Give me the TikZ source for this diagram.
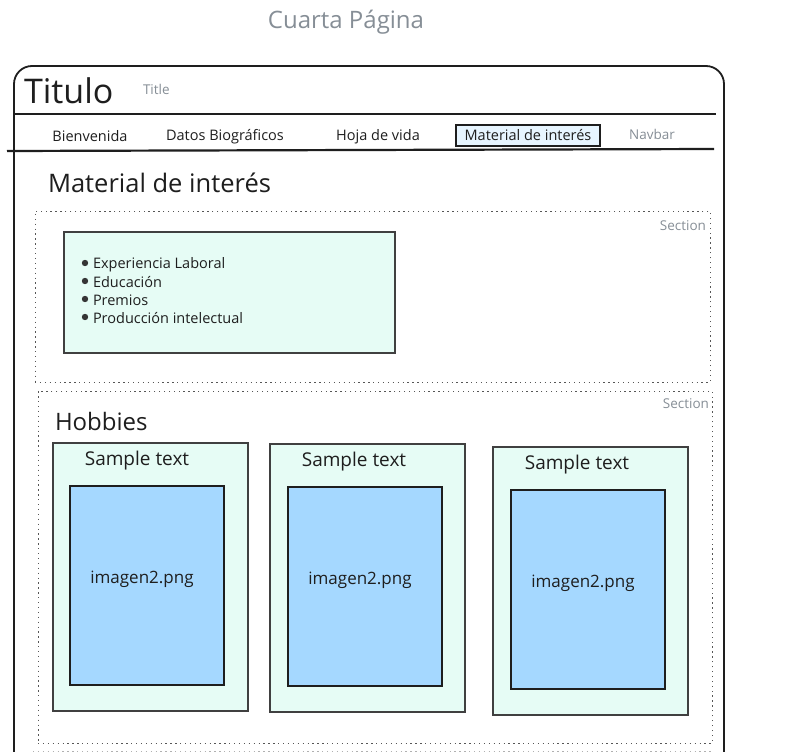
\documentclass[tikz,border=0pt]{standalone}
\usepackage{fontspec}
\setmainfont{Open Sans}
\definecolor{ink}{HTML}{1E1E1E}
\definecolor{muted}{HTML}{868E96}
\definecolor{mint}{HTML}{E6FCF5}
\definecolor{sky}{HTML}{A5D8FF}
\definecolor{navfill}{HTML}{E7F5FF}
\newcommand{\fsz}[1]{\fontsize{#1}{#1}\selectfont}
\tikzset{
  every node/.style={inner sep=0pt, outer sep=0pt, text=ink},
  frameline/.style={draw=ink, line width=1.8pt},
  barline/.style={draw=ink, line width=2.2pt},
  sectionbox/.style={draw=ink!75, line width=1pt, dash pattern=on 1.3pt off 3.6pt},
  panel/.style={draw=ink!85, line width=1.5pt, fill=mint, anchor=north west},
  picbox/.style={draw=ink, line width=1.6pt, fill=sky, anchor=north west},
  navitem/.style={font=\fsz{14.5}},
  tag/.style={font=\fsz{13.5}, text=muted},
  heading/.style={font=\fsz{25.5}, anchor=west},
  itemtext/.style={font=\fsz{14.5}, anchor=west},
  captiontext/.style={font=\fsz{19}},
  pictext/.style={font=\fsz{17}},
}
\begin{document}
\begin{tikzpicture}[x=1pt, y=-1pt]
\useasboundingbox[fill=white] (0,0) rectangle (793,752);

% page caption
\node[font=\fsz{24}, text=muted] (pagecap) at (346,22) {Cuarta Página};

% browser frame, open at the bottom (angles run in the flipped y system)
\draw[frameline] (14,752) -- (14,84) arc[start angle=180, end angle=270, radius=18] -- (706,66)
  arc[start angle=270, end angle=360, radius=18] -- (724,752);

% header
\node[font=\fsz{34}, anchor=west] (titulo) at (24,91) {Titulo};
\node[tag, anchor=west] (titletag) at (143,89) {Title};

% navbar rules
\coordinate (navtopL) at (14,114);
\coordinate (navtopR) at (716,114);
\coordinate (navbotL) at (7,151);
\coordinate (navbotR) at (714,149);
\draw[barline] (navtopL) -- (navtopR);
\draw[barline] (navbotL) -- (navbotR);

% navbar entries
\node[navitem] (nav1) at (90,136.5) {Bienvenida};
\node[navitem] (nav2) at (225,136.5) {Datos Biográficos};
\node[navitem] (nav3) at (378,136.5) {Hoja de vida};
\node[navitem, draw=ink, line width=1.6pt, fill=navfill, minimum width=144, minimum height=21] (nav4) at (528,135.5) {Material de interés};
\node[tag] (navtag) at (652,134) {Navbar};

% first section
\node[heading] (matheading) at (48,183) {Material de interés};
\node[sectionbox, anchor=north west, minimum width=675, minimum height=171] (sec1) at (35,211) {};
\node[tag, anchor=north east] (sec1tag) at (706,221) {Section};
\node[panel, minimum width=331, minimum height=121] (listbox) at (64,232) {};
\foreach \yy/\txt [count=\i] in {263/Experiencia Laboral, 281/Educación, 299/Premios, 317/Producción intelectual}{
  \fill[ink!90] (85,\yy) circle[radius=3.2];
  \node[itemtext] (item\i) at (93,\yy+1.5) {\txt};
}

% second section
\node[sectionbox, anchor=north west, minimum width=674, minimum height=352] (sec2) at (38,391) {};
\node[tag, anchor=north east] (sec2tag) at (709,399) {Section};
\node[heading, font=\fsz{24}] (hobbies) at (55,421) {Hobbies};

% hobby cards
\node[panel, minimum width=195, minimum height=268] (card1) at (53,443) {};
\node[panel, minimum width=195, minimum height=268] (card2) at (270,444) {};
\node[panel, minimum width=195, minimum height=268] (card3) at (493,447) {};
\node[captiontext] (cap1) at (137,461) {Sample text};
\node[captiontext] (cap2) at (354,462) {Sample text};
\node[captiontext] (cap3) at (577,465) {Sample text};
\node[picbox, minimum width=154, minimum height=199] (img1) at (70,486) {};
\node[picbox, minimum width=154, minimum height=199] (img2) at (288,487) {};
\node[picbox, minimum width=154, minimum height=199] (img3) at (511,490) {};
\node[pictext] (pic1) at (142,579) {imagen2.png};
\node[pictext] (pic2) at (360,580) {imagen2.png};
\node[pictext] (pic3) at (583,583) {imagen2.png};

% start of a further section, cut off at the bottom edge
\coordinate (sec3L) at (33,751);
\coordinate (sec3R) at (712,751);
\draw[sectionbox, draw=ink!35] (sec3L) -- (sec3R);
\end{tikzpicture}
\end{document}
